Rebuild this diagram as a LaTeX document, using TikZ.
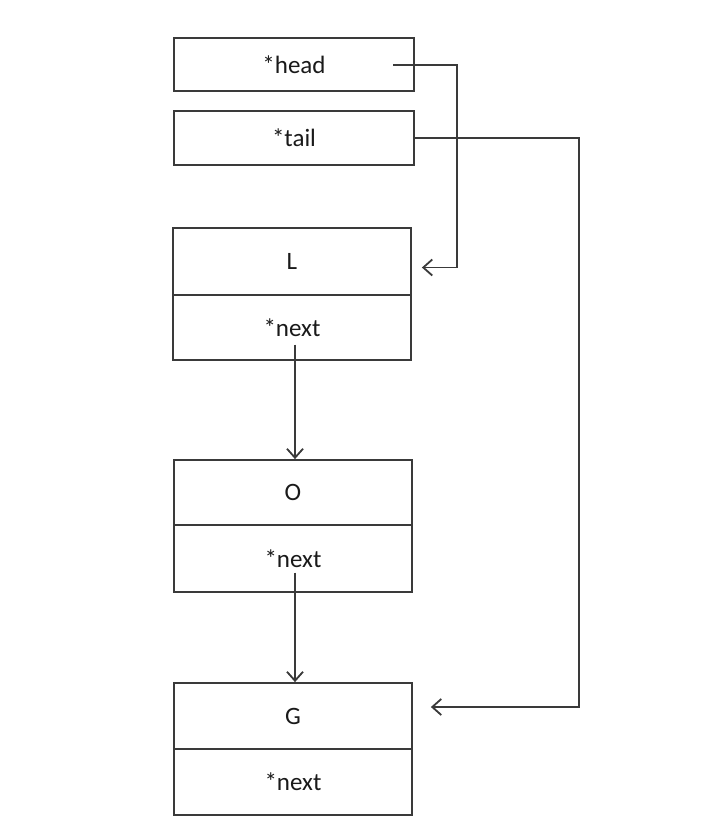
\documentclass[tikz,border=0pt]{standalone}
\usepackage{fontspec}
\setmainfont{Carlito}
\usetikzlibrary{arrows.meta}
\definecolor{ln}{HTML}{3A3A3A}
\definecolor{tx}{HTML}{1A1A1A}
\tikzset{
  cell/.style={draw=ln, line width=1.8pt, rectangle, inner sep=0pt, minimum width=240pt, text=tx, font=\fontsize{25}{29}\selectfont},
  arr/.style={draw=ln, line width=1.8pt, -{Straight Barb[length=9pt,width=16pt,line width=1.8pt]}}
}
\begin{document}
\begin{tikzpicture}[x=1pt,y=-1pt]
\path[use as bounding box, fill=white] (0,0) rectangle (713,830);
% pointer boxes
\node[cell, minimum height=53pt] (head) at (294,64.5) {*head};
\node[cell, minimum height=54pt] (tail) at (294,138) {*tail};
% L
\node[cell, minimum height=67pt, minimum width=238pt] (Ltop) at (292,261.5) {L};
\node[cell, minimum height=65pt, minimum width=238pt] (Lnext) at (292,327.5) {*next};
% O
\node[cell, minimum height=65pt, minimum width=238pt] (Otop) at (293,492.5) {O};
\node[cell, minimum height=67pt, minimum width=238pt] (Onext) at (293,558.5) {*next};
% G
\node[cell, minimum height=66pt, minimum width=238pt] (Gtop) at (293,716) {G};
\node[cell, minimum height=66pt, minimum width=238pt] (Gnext) at (293,782) {*next};
% head pointer
\coordinate (hs) at (393,65);
\coordinate (hb) at (457,65);
\draw[arr] (hs) -- (hb) |- ([xshift=10pt,yshift=-6pt]Ltop.east);
% tail pointer
\coordinate (tb) at (579,138);
\draw[arr] (tail.east) -- (tb) |- ([xshift=18pt,yshift=9pt]Gtop.east);
% next pointers
\draw[arr] ([xshift=3pt,yshift=-17pt]Lnext.center) -- ([xshift=2pt]Otop.north);
\draw[arr] ([xshift=2pt,yshift=-14pt]Onext.center) -- ([xshift=2pt]Gtop.north);
\end{tikzpicture}
\end{document}
